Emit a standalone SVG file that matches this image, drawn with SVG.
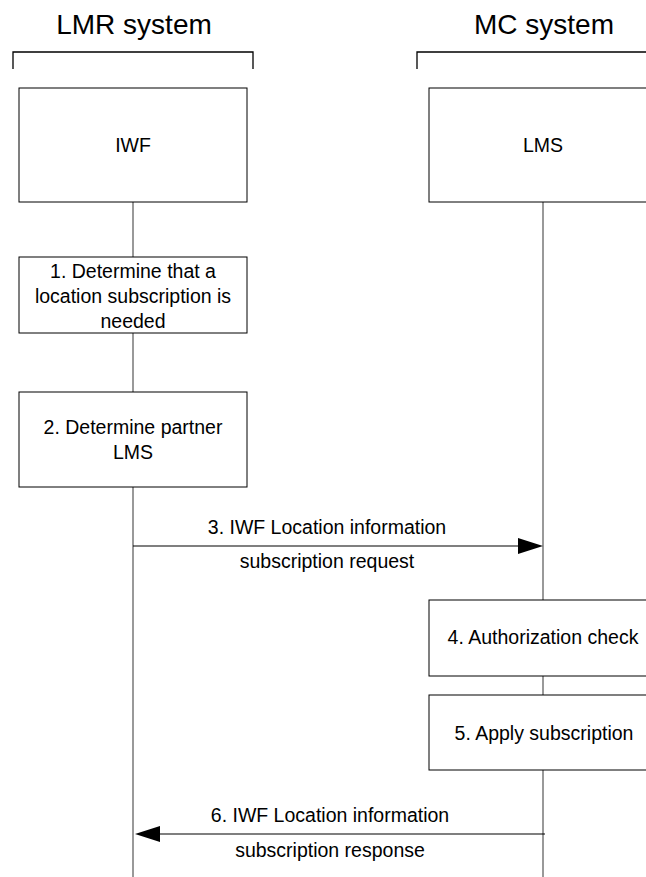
<svg xmlns="http://www.w3.org/2000/svg" width="646" height="877" viewBox="0 0 646 877">
<style>
  .box { fill: #ffffff; stroke: #000000; stroke-width: 1; }
  .bracket { fill: none; stroke: #000000; stroke-width: 1.3; }
  .life { stroke: #555555; stroke-width: 1.2; fill: none; }
  .msg { stroke: #000000; stroke-width: 1.2; fill: none; }
  .head { fill: #000000; stroke: none; }
  .t { font-family: "Liberation Sans", Arial, sans-serif; font-size: 19.5px; fill: #000000; text-anchor: middle; }
  .h { font-family: "Liberation Sans", Arial, sans-serif; font-size: 28px; fill: #000000; text-anchor: middle; }
</style>
<rect x="0" y="0" width="646" height="877" fill="#ffffff"/>

<g id="connectors">
  <line class="life" x1="133" y1="202" x2="133" y2="877"/>
  <line class="life" x1="543" y1="202" x2="543" y2="877"/>
  <line class="msg" x1="133" y1="546" x2="520" y2="546"/>
  <polygon class="head" points="543,546 518,538 518,554"/>
  <line class="msg" x1="545" y1="834" x2="157" y2="834"/>
  <polygon class="head" points="135,834 160,826 160,842"/>
</g>

<g id="lmr-system">
  <text class="h" x="134" y="34">LMR system</text>
  <polyline class="bracket" points="13,69 13,52 253,52 253,69"/>
</g>

<g id="mc-system">
  <text class="h" x="544" y="34">MC system</text>
  <polyline class="bracket" points="417,69 417,52 646,52"/>
</g>

<g id="iwf">
  <rect class="box" x="19" y="88" width="228" height="114"/>
  <text class="t" x="133" y="152">IWF</text>
</g>

<g id="lms">
  <rect class="box" x="429" y="88" width="230" height="114"/>
  <text class="t" x="543" y="152">LMS</text>
</g>

<g id="step1">
  <rect class="box" x="19" y="257" width="228" height="76"/>
  <text class="t" x="133" y="278">1. Determine that a</text>
  <text class="t" x="133" y="303">location subscription is</text>
  <text class="t" x="133" y="328">needed</text>
</g>

<g id="step2">
  <rect class="box" x="19" y="392" width="228" height="95"/>
  <text class="t" x="133" y="434">2. Determine partner</text>
  <text class="t" x="133" y="459">LMS</text>
</g>

<g id="msg3-label">
  <text class="t" x="327" y="534">3. IWF Location information</text>
  <text class="t" x="327" y="568">subscription request</text>
</g>

<g id="step4">
  <rect class="box" x="429" y="600" width="230" height="76"/>
  <text class="t" x="543" y="644">4. Authorization check</text>
</g>

<g id="step5">
  <rect class="box" x="429" y="695" width="230" height="75"/>
  <text class="t" x="544" y="740">5. Apply subscription</text>
</g>

<g id="msg6-label">
  <text class="t" x="330" y="822">6. IWF Location information</text>
  <text class="t" x="330" y="857">subscription response</text>
</g>
</svg>
